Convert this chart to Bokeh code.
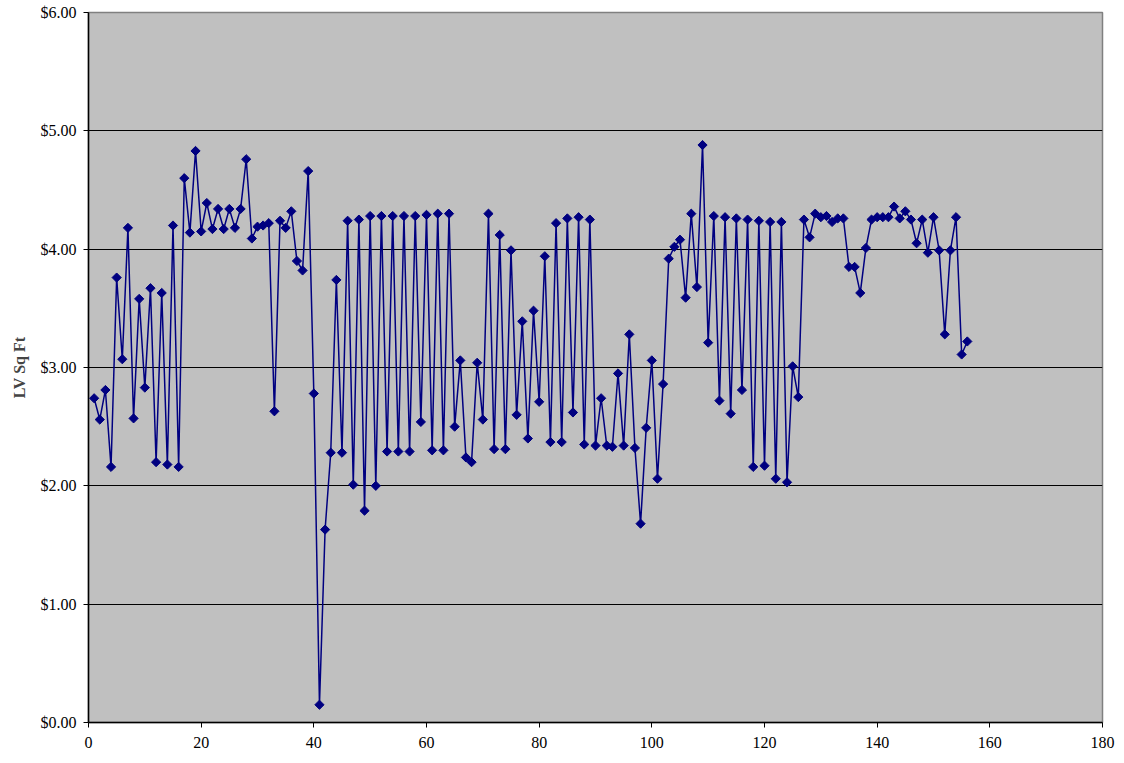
import math
from bokeh.plotting import figure
from bokeh.models import ColumnDataSource, Range1d, FixedTicker, NumeralTickFormatter
from bokeh.embed import file_html
from bokeh.resources import INLINE

values = [
    2.74, 2.56, 2.81, 2.16, 3.76, 3.07, 4.18, 2.57, 3.58, 2.83,
    3.67, 2.20, 3.63, 2.18, 4.20, 2.16, 4.60, 4.14, 4.83, 4.15,
    4.39, 4.17, 4.34, 4.17, 4.34, 4.18, 4.34, 4.76, 4.09, 4.19,
    4.20, 4.22, 2.63, 4.24, 4.18, 4.32, 3.90, 3.82, 4.66, 2.78,
    0.15, 1.63, 2.28, 3.74, 2.28, 4.24, 2.01, 4.25, 1.79, 4.28,
    2.00, 4.28, 2.29, 4.28, 2.29, 4.28, 2.29, 4.28, 2.54, 4.29,
    2.30, 4.30, 2.30, 4.30, 2.50, 3.06, 2.24, 2.20, 3.04, 2.56,
    4.30, 2.31, 4.12, 2.31, 3.99, 2.60, 3.39, 2.40, 3.48, 2.71,
    3.94, 2.37, 4.22, 2.37, 4.26, 2.62, 4.27, 2.35, 4.25, 2.34,
    2.74, 2.34, 2.33, 2.95, 2.34, 3.28, 2.32, 1.68, 2.49, 3.06,
    2.06, 2.86, 3.92, 4.02, 4.08, 3.59, 4.30, 3.68, 4.88, 3.21,
    4.28, 2.72, 4.27, 2.61, 4.26, 2.81, 4.25, 2.16, 4.24, 2.17,
    4.23, 2.06, 4.23, 2.03, 3.01, 2.75, 4.25, 4.10, 4.30, 4.27,
    4.28, 4.23, 4.26, 4.26, 3.85, 3.85, 3.63, 4.01, 4.25, 4.27,
    4.27, 4.27, 4.36, 4.26, 4.32, 4.25, 4.05, 4.25, 3.97, 4.27,
    3.99, 3.28, 3.99, 4.27, 3.11, 3.22,
]
index = list(range(1, len(values) + 1))
x_ticks = [0, 20, 40, 60, 80, 100, 120, 140, 160, 180]
y_ticks = [0, 1, 2, 3, 4, 5, 6]
y_label = "LV Sq Ft"

src = ColumnDataSource(dict(x=index, y=values))

p = figure(width=1120, height=758, output_backend="svg", toolbar_location=None,
           x_range=Range1d(0, 180), y_range=Range1d(0, 6),
           min_border_left=88, min_border_right=18, min_border_top=12, min_border_bottom=36)
p.background_fill_color = "#C0C0C0"
p.border_fill_color = "white"
p.outline_line_color = "#808080"
p.outline_line_width = 1.5

p.line("x", "y", source=src, line_color="#000080", line_width=1.5)
p.scatter("x", "y", source=src, marker="square", size=6.5, angle=math.pi / 4,
          fill_color="#000080", line_color="#000080")

p.xgrid.visible = False
p.ygrid.grid_line_color = "black"
p.ygrid.grid_line_width = 1

p.xaxis.ticker = FixedTicker(ticks=x_ticks)
p.yaxis.ticker = FixedTicker(ticks=y_ticks)
p.yaxis.formatter = NumeralTickFormatter(format="$0.00")
p.yaxis.axis_label = y_label

for ax in (p.xaxis, p.yaxis):
    ax.axis_line_color = "black"
    ax.axis_line_width = 1.5
    ax.major_tick_line_color = "black"
    ax.major_tick_in = 0
    ax.major_tick_out = 5
    ax.minor_tick_line_color = None
    ax.major_label_text_font = "Liberation Serif"
    ax.major_label_text_font_size = "16px"
    ax.major_label_text_color = "black"

p.xaxis.major_label_standoff = 9
p.yaxis.major_label_standoff = 7
p.yaxis.axis_label_text_font = "Liberation Serif"
p.yaxis.axis_label_text_font_style = "bold"
p.yaxis.axis_label_text_font_size = "16px"
p.yaxis.axis_label_standoff = 10

open("out.html", "w").write(file_html(p, INLINE))
